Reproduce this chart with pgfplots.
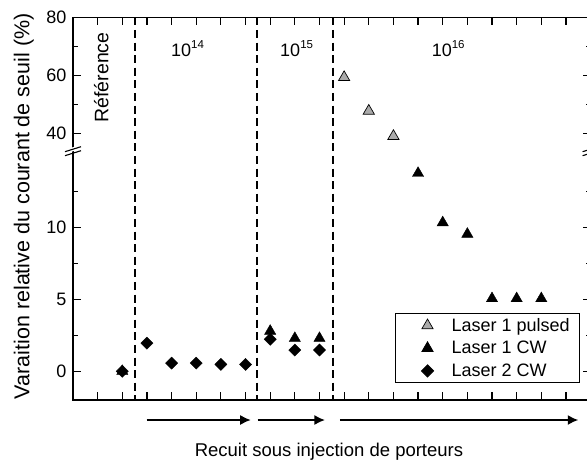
\documentclass[border=0pt]{standalone}
\usepackage{pgfplots}
\pgfplotsset{compat=1.18}
\usepackage{fontspec}
\setmainfont{Liberation Sans}
\usetikzlibrary{arrows.meta}
\definecolor{pulsegray}{RGB}{170,170,170}
\newcommand{\tsize}{\fontsize{18}{21}\selectfont}
\newcommand{\expo}[2]{#1\raisebox{8.4pt}{\fontsize{11.5}{12}\selectfont #2}}
\begin{document}
\begin{tikzpicture}[x=1pt,y=1pt]
\pgfplotsset{
  common/.style={
    scale only axis, width=517.6pt, anchor=south west,
    xmin=0, xmax=21, xtick={0,...,21}, xticklabels={},
    tick align=inside, major tick length=8pt, minor tick length=4.5pt,
    every tick/.style={black, line width=1.2pt},
    axis line style={draw=none},
    ytick pos=both, yticklabel pos=left,
    tick label style={font=\tsize},
    yticklabel style={xshift=-3pt},
    /pgf/number format/assume math mode=true,
    clip=false,
  },
  mylegend/.style={legend image code/.code={\path[draw=none] (0pt,0pt) -- (51pt,0pt); \draw[##1,/tikz/only marks] plot coordinates {(29pt,0pt)};}},
}
% ---------- lower part ----------
\begin{axis}[common, at={(73pt,59pt)}, height=248.3pt,
  ymin=-2, ymax=15.3, ytick={0,5,10}, minor ytick={2.5,7.5,12.5},
  xtick pos=left,
  legend style={at={(0.9795,0.349)}, anchor=north east, draw=black, line width=0.8pt,
    fill=white, font=\tsize, inner xsep=3pt, inner ysep=2.5pt, row sep=4.5pt,
    cells={anchor=west}},
]
\draw[line width=1.3pt] (rel axis cs:0,1) -- (rel axis cs:0,0) -- (rel axis cs:1,0) -- (rel axis cs:1,1);
\coordinate (d1b) at (axis cs:2.52,-2);
\coordinate (d2b) at (axis cs:7.47,-2);
\coordinate (d3b) at (axis cs:10.55,-2);
\addlegendimage{only marks, mark=triangle*, mark size=6.5pt, mark options={fill=pulsegray, draw=black, line width=0.7pt}, mylegend}
\addlegendentry{Laser 1 pulsed\hspace*{5pt}}
\addplot[only marks, mark=triangle*, mark size=6.5pt, mark options={fill=black, draw=black}, mylegend] coordinates {
 (2,0) (8,2.8) (9,2.3) (10,2.3) (14,13.8) (15,10.36) (16,9.56) (17,5.07) (18,5.07) (19,5.07)};
\addlegendentry{Laser 1 CW}
\addplot[only marks, mark=square*, mark size=4.3pt, mark options={fill=black, draw=black, rotate=45}, mylegend] coordinates {
 (2,0) (3,1.96) (4,0.57) (5,0.57) (6,0.48) (7,0.48) (8,2.23) (9,1.48) (10,1.48)};
\addlegendentry{Laser 2 CW}
\draw[line width=1.5pt, -{Latex[length=10.5pt,width=10pt]}] (axis cs:2.99,-3.394) -- (axis cs:7.21,-3.394);
\draw[line width=1.5pt, -{Latex[length=10.5pt,width=10pt]}] (axis cs:7.49,-3.394) -- (axis cs:10.22,-3.394);
\draw[line width=1.5pt, -{Latex[length=10.5pt,width=10pt]}] (axis cs:10.83,-3.394) -- (axis cs:20.5,-3.394);
\node[anchor=base, inner sep=0pt, font=\fontsize{18.5}{22}\selectfont] at (axis cs:10.385,-5.93) {Recuit sous injection de porteurs};
\node[anchor=base, rotate=90, inner sep=0pt, font=\fontsize{21.5}{25}\selectfont] at (axis cs:-1.765,11.5) {Varaition relative du courant de seuil (\%)};
\end{axis}
% ---------- upper part ----------
\begin{axis}[common, at={(73pt,307.3pt)}, height=134.4pt,
  ymin=33.66, ymax=80, ytick={40,60,80}, minor ytick={50,70},
  xtick pos=right,
]
\draw[line width=1.3pt] (rel axis cs:0,0) -- (rel axis cs:0,1) -- (rel axis cs:1,1) -- (rel axis cs:1,0);
\coordinate (d1t) at (axis cs:2.52,80);
\coordinate (d2t) at (axis cs:7.47,80);
\coordinate (d3t) at (axis cs:10.55,80);
\addplot[only marks, mark=triangle*, mark size=6.5pt, mark options={fill=pulsegray, draw=black, line width=0.7pt}] coordinates {
 (11,59.3) (12,47.7) (13,39.0)};
\node[anchor=base, rotate=90, inner sep=0pt, font=\fontsize{19.5}{23}\selectfont] at (axis cs:1.44,59.24) {Référence};
\node[anchor=base west, inner sep=0pt, font=\tsize] at (axis cs:3.976,66.41) {\expo{10}{14}};
\node[anchor=base west, inner sep=0pt, font=\tsize] at (axis cs:8.40,66.41) {\expo{10}{15}};
\node[anchor=base west, inner sep=0pt, font=\tsize] at (axis cs:14.55,66.41) {\expo{10}{16}};
\end{axis}
% dashed separators
\foreach \a in {1,2,3}{
  \draw[line width=1.4pt, dash pattern=on 8pt off 4.6pt] (d\a t) -- (d\a b);
}
% axis break marks
\foreach \xx in {73,590.6}{
  \fill[white] (\xx-8,305.3) -- (\xx+8,310.3) -- (\xx+8,314.3) -- (\xx-8,309.3) -- cycle;
  \draw[line width=1.1pt] (\xx-8,303.3) -- (\xx+8,308.3);
  \draw[line width=1.1pt] (\xx-8,307.3) -- (\xx+8,312.3);
}
\pgfresetboundingbox
\path[use as bounding box] (0,0) rectangle (587,459);
\end{tikzpicture}
\end{document}
